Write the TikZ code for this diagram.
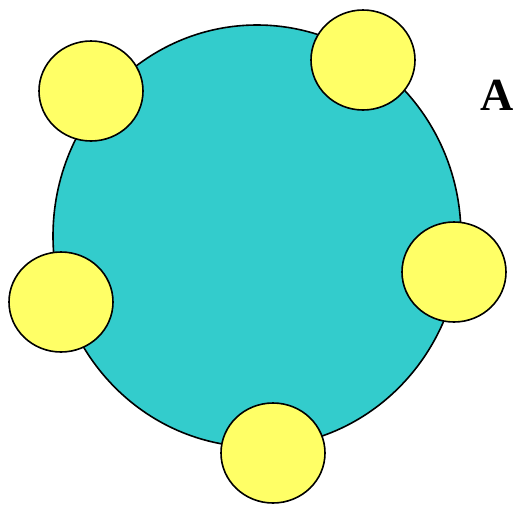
\documentclass[tikz,border=0pt]{standalone}
\usepackage{fontspec}
\setmainfont{Liberation Serif}
\begin{document}
\begin{tikzpicture}[x=1pt,y=-1pt,
  cell/.style={draw=black,line width=1.6pt,fill={rgb,255:red,51;green,204;blue,204}},
  blob/.style={draw=black,line width=1.6pt,fill={rgb,255:red,255;green,255;blue,102}}]
\useasboundingbox (0,0) rectangle (514,504);
\path[cell] (257,236) ellipse [x radius=204, y radius=211];
\path[blob] (91,91) ellipse [x radius=52, y radius=50];
\path[blob] (363,60) ellipse [x radius=52, y radius=50];
\path[blob] (454,272) ellipse [x radius=52, y radius=50];
\path[blob] (61,302) ellipse [x radius=52, y radius=50];
\path[blob] (273,453) ellipse [x radius=52, y radius=50];
\node[font=\fontsize{46}{46}\selectfont\bfseries, inner sep=0pt, anchor=base] (lbl) at (497,110) {A};
\end{tikzpicture}
\end{document}
